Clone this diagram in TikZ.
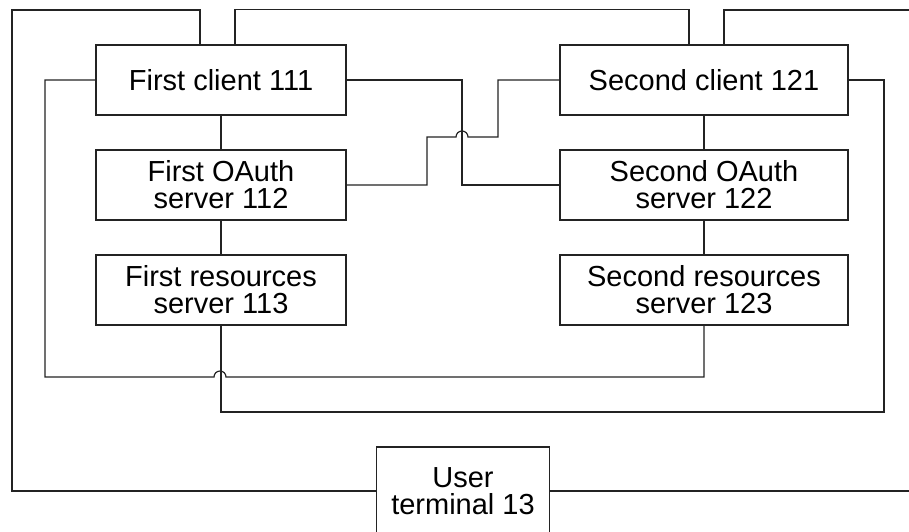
\documentclass[tikz,border=0pt]{standalone}
\usepackage{fontspec}
\setmainfont{Liberation Sans}
\definecolor{linegray}{RGB}{35, 35, 35}
\usepackage{tikz}

\begin{document}
\begin{tikzpicture}[
  x=1pt, y=-1pt,
  ubox/.style={draw=linegray, line width=1.2pt, minimum height=70pt, inner sep=0pt, align=center, font=\fontsize{29}{27}\selectfont},
  link/.style={draw=linegray, line width=1.2pt}
]
  \useasboundingbox (0,0) rectangle (909,531);

  % first side
  \node[ubox, minimum width=250pt] (c1) at (221,80) {First client 111};
  \node[ubox, minimum width=250pt] (o1) at (221,185) {First OAuth\\server 112};
  \node[ubox, minimum width=250pt] (r1) at (221,290) {First resources\\server 113};
  % second side
  \node[ubox, minimum width=288pt] (c2) at (704,80) {Second client 121};
  \node[ubox, minimum width=288pt] (o2) at (704,185) {Second OAuth\\server 122};
  \node[ubox, minimum width=288pt] (r2) at (704,290) {Second resources\\server 123};
  % terminal
  \node[ubox, minimum width=173pt, minimum height=88pt] (ut) at (463,491) {User\\terminal 13};

  \foreach \a/\b in {c1/o1, o1/r1, c2/o2, o2/r2}
    \draw[link] (\a.south) -- (\b.north);

  % outer loops
  \draw[link] ([xshift=-21pt]c1.north) |- (12,10) |- (ut.west);
  \draw[link] ([xshift=14pt]c1.north) -- ++(0,-35) -| ([xshift=-15pt]c2.north);
  \draw[link] ([xshift=20pt]c2.north) |- (912,10) |- (ut.east);

  % cross links
  \draw[link] (c1.east) -- (462,80) |- (o2.west);
  \draw[link] (o1.east) -| (427,137) -- (456,137) arc[start angle=180, end angle=0, radius=6pt] -- (498,137) |- (c2.west);
  \draw[link] (c1.west) -| (45,377) -- (214,377) arc[start angle=180, end angle=0, radius=6pt] -| (r2.south);
  \draw[link] (c2.east) -| (884,412) -| (r1.south);
\end{tikzpicture}
\end{document}
